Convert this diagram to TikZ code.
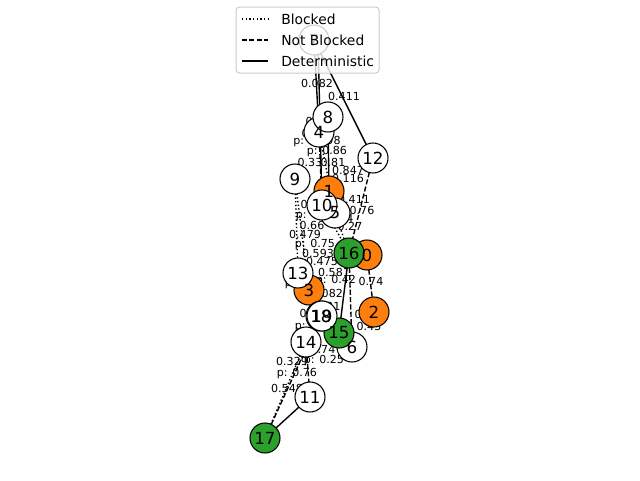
\documentclass[tikz,border=0pt]{standalone}
\usepackage{fontspec}
\setmainfont{DejaVu Sans}
\definecolor{morange}{HTML}{FF7F0E}
\definecolor{mgreen}{HTML}{2CA02C}
\pgfdeclarelayer{bg}
\pgfdeclarelayer{lbl}
\pgfsetlayers{bg,lbl,main}
\tikzset{
  vtx/.style={circle, draw=black, line width=0.8pt, minimum size=22.5pt, inner sep=0pt, fill=white},
  vtxo/.style={vtx, fill=morange},
  vtxg/.style={vtx, fill=mgreen},
  vtxt/.style={font=\fontsize{12.5}{13}\selectfont, inner sep=0pt},
  elbl/.style={font=\fontsize{8.3}{9}\selectfont, inner sep=0pt},
  legtxt/.style={font=\fontsize{10.4}{11}\selectfont, inner sep=0pt, anchor=west},
  edet/.style={line width=1.04pt},
  eblk/.style={line width=1.04pt, dash pattern=on 1.04pt off 1.72pt},
  enb/.style={line width=1.04pt, dash pattern=on 3.85pt off 1.66pt},
}
\begin{document}
\begin{tikzpicture}[x=0.75pt, y=-0.75pt]
\useasboundingbox (0,0) rectangle (640,480);
% nodes (circles) in index order
\node[vtxo] (n0) at (367,255) {};
\node[vtxo] (n1) at (329,191) {};
\node[vtxo] (n2) at (374,312) {};
\node[vtxo] (n3) at (309,290) {};
\node[vtx]  (n4) at (319,132) {};
\node[vtx]  (n5) at (335,213) {};
\node[vtx]  (n6) at (352,347) {};
\node[vtx]  (n7) at (314,40) {};
\node[vtx]  (n8) at (328,117) {};
\node[vtx]  (n9) at (295,179) {};
\node[vtx]  (n10) at (322,205) {};
\node[vtx]  (n11) at (310,397) {};
\node[vtx]  (n12) at (373,158) {};
\node[vtx]  (n13) at (298,273) {};
\node[vtx]  (n14) at (306,342) {};
\node[vtxg] (n15) at (339,333) {};
\node[vtxg] (n16) at (349,253) {};
\node[vtxg] (n17) at (265,438) {};
\node[vtx]  (n18) at (321,316) {};
\node[vtx]  (n19) at (322,316) {};
% node texts
\foreach \i in {0,...,19} {\node[vtxt] at (n\i) {\i};}
% edges
\begin{pgfonlayer}{bg}
\draw[edet] (n7.center) -- (n4.center);
\draw[edet] ([xshift=3pt]n7.center) -- (n10.center);
\draw[edet] (n7.center) -- (n12.center);
\draw[edet] (n8.center) -- (n1.center);
\draw[enb]  (n4.center) -- (n10.center);
\draw[eblk] (n4.center) -- (n5.center);
\draw[enb]  (n12.center) -- (n16.center);
\draw[eblk] (n9.center) -- (n13.center);
\draw[eblk] (n9.center) -- (n3.center);
\draw[eblk] (n10.center) -- (n16.center);
\draw[eblk] (n5.center) -- (n16.center);
\draw[enb]  (n0.center) -- (n2.center);
\draw[edet] (n16.center) -- (n15.center);
\draw[enb]  (n16.center) -- (n6.center);
\draw[eblk] (n3.center) -- (n19.center);
\draw[enb]  (n14.center) -- (n11.center);
\draw[edet] (n11.center) -- (n17.center);
\draw[eblk] (n17.center) -- (n14.center);
\draw[enb]  (n17.center) -- (n18.center);
\end{pgfonlayer}
% edge labels
\begin{pgfonlayer}{lbl}
\node[elbl] (l1) at (317,83) {0.082};
\node[elbl] (l2) at (344,96) {0.411};
\node[elbl] (l3) at (318,121) {0.52};
\node[elbl] (l4) at (314,133) {0.15};
\node[elbl] (l5) at (317,142) {p: 0.598};
\node[elbl] (l6) at (327,152) {p: 0.86};
\node[elbl] (l7) at (310,162) {0.33};
\node[elbl] (l8) at (333,162) {0.81};
\node[elbl] (l9) at (348,170) {0.847};
\node[elbl] (l10) at (348,178) {0.116};
\node[elbl] (l11) at (354,199) {0.411};
\node[elbl] (l12) at (313,204) {0.29};
\node[elbl] (l13) at (362,210) {0.76};
\node[elbl] (l14) at (316,216) {p: 0.17};
\node[elbl] (l15) at (341,218) {0.54};
\node[elbl] (l16) at (312,225) {0.66};
\node[elbl] (l17) at (350,226) {0.27};
\node[elbl] (l18) at (305,234) {0.479};
\node[elbl] (l19) at (315,245) {p: 0.75};
\node[elbl] (l20) at (318,253) {0.593};
\node[elbl] (l21) at (322,261) {0.475};
\node[elbl] (l22) at (334,272) {0.581};
\node[elbl] (l23) at (336,281) {p: 0.42};
\node[elbl] (l24) at (371,281) {0.74};
\node[elbl] (l25) at (305,284) {p: 0.61};
\node[elbl] (l26) at (327,293) {0.082};
\node[elbl] (l27) at (328,306) {0.31};
\node[elbl] (l28) at (312,313) {0.45};
\node[elbl] (l29) at (367,314) {0.63};
\node[elbl] (l30) at (369,326) {0.45};
\node[elbl] (l31) at (315,327) {p: 0.81};
\node[elbl] (l32) at (323,349) {0.74};
\node[elbl] (l33) at (292,361) {0.329};
\node[elbl] (l34) at (324,361) {p: 0.25};
\node[elbl] (l35) at (297,374) {p: 0.76};
\node[elbl] (l36) at (287,388) {0.548};
\end{pgfonlayer}
% legend
\draw[draw=black!20, fill=white, fill opacity=0.8, line width=0.75pt, rounded corners=2.5pt] (236,7) rectangle (379,73);
\coordinate (la1) at (242,19); \coordinate (lb1) at (268,19);
\coordinate (la2) at (242,40); \coordinate (lb2) at (268,40);
\coordinate (la3) at (242,61); \coordinate (lb3) at (268,61);
\draw[eblk] (la1) -- (lb1);
\draw[enb] (la2) -- (lb2);
\draw[edet] (la3) -- (lb3);
\node[legtxt] (t1) at (281,19) {Blocked};
\node[legtxt] (t2) at (281,40) {Not Blocked};
\node[legtxt] (t3) at (281,61) {Deterministic};
\end{tikzpicture}
\end{document}
